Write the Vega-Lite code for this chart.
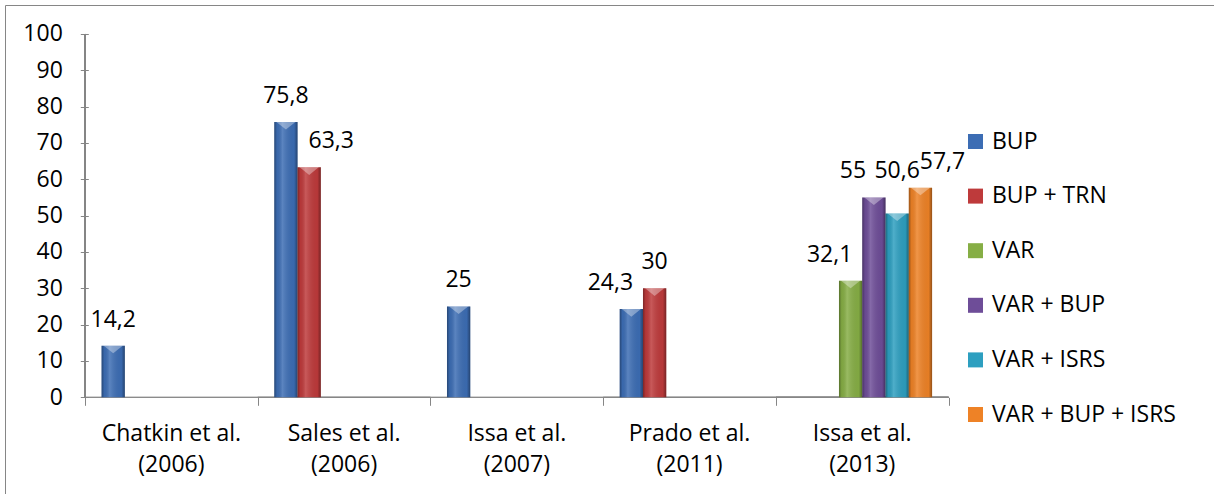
{
  "$schema": "https://vega.github.io/schema/vega-lite/v6.json",
  "width": 1209,
  "height": 500,
  "autosize": {"type": "none"},
  "padding": {"left": 5, "top": 5, "right": 0, "bottom": 0},
  "background": "white",
  "config": {
    "locale": {"number": {"decimal": ",", "thousands": ".", "grouping": [3], "currency": ["", ""]}},
    "font": "Open Sans",
    "view": {"stroke": "#868686", "strokeWidth": 1},
    "axis": {"grid": false, "title": null, "labelColor": "#000000", "labelFontSize": 23, "labelFont": "Open Sans", "tickColor": "#868686", "domain": false}
  },
  "data": {
    "values": [
      {"study": "Chatkin et al.\n(2006)", "series": "BUP", "value": 14.2},
      {"study": "Sales et al.\n(2006)", "series": "BUP", "value": 75.8},
      {"study": "Sales et al.\n(2006)", "series": "BUP + TRN", "value": 63.3},
      {"study": "Issa et al.\n(2007)", "series": "BUP", "value": 25},
      {"study": "Prado et al.\n(2011)", "series": "BUP", "value": 24.3},
      {"study": "Prado et al.\n(2011)", "series": "BUP + TRN", "value": 30},
      {"study": "Issa et al.\n(2013)", "series": "VAR", "value": 32.1},
      {"study": "Issa et al.\n(2013)", "series": "VAR + BUP", "value": 55},
      {"study": "Issa et al.\n(2013)", "series": "VAR + ISRS", "value": 50.6},
      {"study": "Issa et al.\n(2013)", "series": "VAR + BUP + ISRS", "value": 57.7}
    ]
  },
  "layer": [
    {
      "mark": {"type": "bar", "fill": "#ffffff", "fillOpacity": 0, "stroke": "#868686", "strokeWidth": 1},
      "encoding": {
        "x": {"field": "study", "type": "nominal", "sort": null},
        "y": {"datum": 0, "type": "quantitative"},
        "y2": {"datum": 0}
      }
    },
    {
      "mark": {"type": "rule", "color": "#868686", "strokeWidth": 1},
      "encoding": {
        "x": {"datum": "Chatkin et al.\n(2006)", "type": "nominal", "bandPosition": 0},
        "y": {"datum": 0, "type": "quantitative"},
        "y2": {"datum": 100}
      }
    },
    {
      "mark": {"type": "bar"},
      "encoding": {
        "x": {
          "field": "study", "type": "nominal", "sort": null,
          "scale": {"type": "band", "paddingInner": 0, "paddingOuter": 1.058, "align": 0.2317},
          "axis": {"orient": "bottom", "offset": -107.7, "tickBand": "extent", "tickSize": 8, "labels": false}
        },
        "xOffset": {
          "field": "series", "type": "nominal",
          "scale": {"domain": ["BUP", "BUP + TRN", "VAR", "VAR + BUP", "VAR + ISRS", "VAR + BUP + ISRS"], "paddingInner": 0, "paddingOuter": 0.71}
        },
        "y": {
          "field": "value", "type": "quantitative",
          "scale": {"domain": [-29.64, 107.98], "nice": false, "zero": false},
          "axis": {
            "orient": "left", "offset": -83.3, "values": [0, 10, 20, 30, 40, 50, 60, 70, 80, 90, 100],
            "tickSize": 8, "labelPadding": 18, "labelFontSize": 23, "labelFont": "Open Sans", "labelColor": "#000000"
          }
        },
        "color": {
          "field": "series", "type": "nominal",
          "scale": {
            "domain": ["BUP", "BUP + TRN", "VAR", "VAR + BUP", "VAR + ISRS", "VAR + BUP + ISRS"],
            "range": ["#3C6DB4", "#BE3A3B", "#86AE45", "#6E4D98", "#2D9FC0", "#EE8226"]
          },
          "legend": {
            "orient": "none", "legendX": 959, "legendY": 125, "title": null, "padding": 0,
            "symbolType": "square", "symbolSize": 225, "symbolStrokeWidth": 0, "symbolOpacity": 1,
            "labelFontSize": 23, "labelColor": "#000000", "labelOffset": 5, "labelLimit": 400, "rowPadding": 30.6
          }
        }
      }
    },
    {
      "mark": {
        "type": "bar",
        "fill": {
          "gradient": "linear", "x1": 0, "x2": 1, "y1": 0, "y2": 0,
          "stops": [
            {"offset": 0, "color": "rgba(0,0,0,0.35)"},
            {"offset": 0.12, "color": "rgba(0,0,0,0.05)"},
            {"offset": 0.35, "color": "rgba(255,255,255,0.16)"},
            {"offset": 0.85, "color": "rgba(0,0,0,0.04)"},
            {"offset": 1, "color": "rgba(0,0,0,0.38)"}
          ]
        }
      },
      "encoding": {
        "x": {"field": "study", "type": "nominal", "sort": null},
        "xOffset": {"field": "series", "type": "nominal"},
        "y": {"field": "value", "type": "quantitative"}
      }
    },
    {
      "mark": {"type": "point", "shape": "M-1,0L1,0L0,0.8Z", "filled": true, "fill": "#ffffff", "opacity": 0.35, "size": 361, "strokeWidth": 0},
      "encoding": {
        "x": {"field": "study", "type": "nominal", "sort": null},
        "xOffset": {"field": "series", "type": "nominal"},
        "y": {"field": "value", "type": "quantitative"}
      }
    },
    {
      "transform": [{"filter": "datum.series == 'BUP' || datum.series == 'VAR'"}],
      "mark": {"type": "text", "fontSize": 23, "color": "#000000", "baseline": "alphabetic", "align": "center", "dy": 44, "lineHeight": 31, "lineBreak": "\n"},
      "encoding": {
        "x": {"field": "study", "type": "nominal", "sort": null},
        "y": {"datum": 0, "type": "quantitative"},
        "text": {"field": "study", "type": "nominal"}
      }
    },
    {
      "transform": [{"filter": "!((datum.study == 'Prado et al.\\n(2011)' && datum.series == 'BUP') || (datum.study == 'Issa et al.\\n(2013)') || (datum.study == 'Sales et al.\\n(2006)' && datum.series == 'BUP + TRN'))"}],
      "mark": {"type": "text", "fontSize": 23, "color": "#000000", "baseline": "middle", "dy": -26},
      "encoding": {
        "x": {"field": "study", "type": "nominal", "sort": null},
        "xOffset": {"field": "series", "type": "nominal"},
        "y": {"field": "value", "type": "quantitative"},
        "text": {"field": "value", "type": "quantitative", "format": ".1~f"}
      }
    },
    {
      "transform": [{"filter": "(datum.study == 'Prado et al.\\n(2011)' && datum.series == 'BUP') || (datum.study == 'Issa et al.\\n(2013)' && (datum.series == 'VAR' || datum.series == 'VAR + BUP'))"}],
      "mark": {"type": "text", "fontSize": 23, "color": "#000000", "baseline": "middle", "dx": -21, "dy": -26},
      "encoding": {
        "x": {"field": "study", "type": "nominal", "sort": null},
        "xOffset": {"field": "series", "type": "nominal"},
        "y": {"field": "value", "type": "quantitative"},
        "text": {"field": "value", "type": "quantitative", "format": ".1~f"}
      }
    },
    {
      "transform": [{"filter": "(datum.study == 'Sales et al.\\n(2006)' && datum.series == 'BUP + TRN') || (datum.study == 'Issa et al.\\n(2013)' && datum.series == 'VAR + BUP + ISRS')"}],
      "mark": {"type": "text", "fontSize": 23, "color": "#000000", "baseline": "middle", "dx": 22, "dy": -26},
      "encoding": {
        "x": {"field": "study", "type": "nominal", "sort": null},
        "xOffset": {"field": "series", "type": "nominal"},
        "y": {"field": "value", "type": "quantitative"},
        "text": {"field": "value", "type": "quantitative", "format": ".1~f"}
      }
    },
    {
      "transform": [{"filter": "datum.study == 'Issa et al.\\n(2013)' && datum.series == 'VAR + ISRS'"}],
      "mark": {"type": "text", "fontSize": 23, "color": "#000000", "baseline": "middle", "dy": -42},
      "encoding": {
        "x": {"field": "study", "type": "nominal", "sort": null},
        "xOffset": {"field": "series", "type": "nominal"},
        "y": {"field": "value", "type": "quantitative"},
        "text": {"field": "value", "type": "quantitative", "format": ".1~f"}
      }
    }
  ]
}
